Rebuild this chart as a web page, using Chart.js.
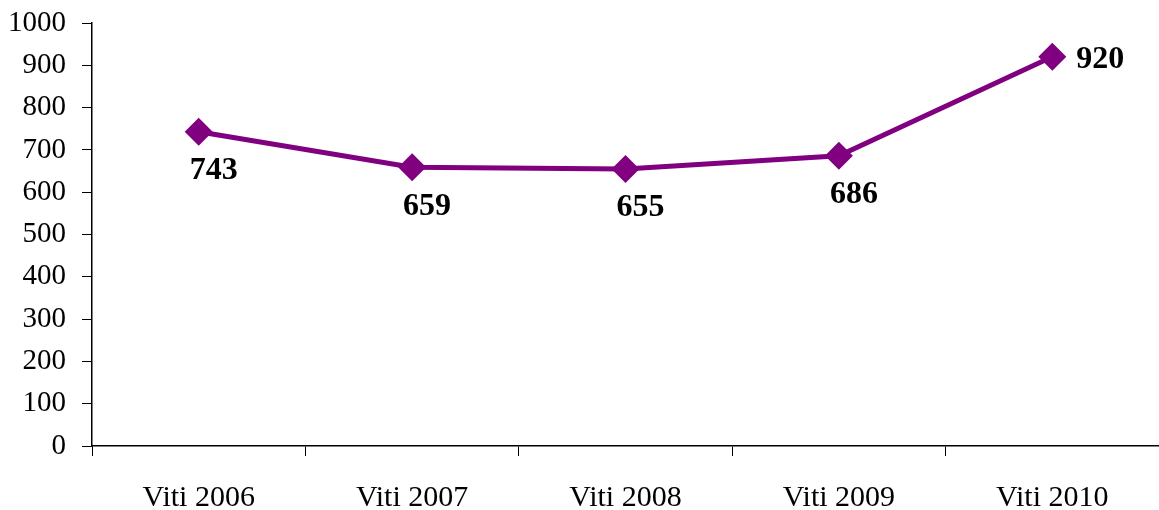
<!DOCTYPE html>
<html>
<head>
<meta charset="utf-8">
<script src="https://cdn.jsdelivr.net/npm/chart.js@4"></script>
<style>
  html, body { margin: 0; padding: 0; background: #fff; }
  #wrap { width: 1159px; height: 510px; }
</style>
</head>
<body>
<div id="wrap"><canvas id="lineChart"></canvas></div>
<script>
// chart data
const years = ['Viti 2006', 'Viti 2007', 'Viti 2008', 'Viti 2009', 'Viti 2010'];
const counts = [743, 659, 655, 686, 920];
const yMin = 0, yMax = 1000, yStep = 100;

const serif = '"Liberation Serif", "Times New Roman", serif';

// value labels: below the marker, the last one to its right
const valueLabels = {
    id: 'valueLabels',
    afterDatasetsDraw(chart) {
        const ctx = chart.ctx;
        const meta = chart.getDatasetMeta(0);
        ctx.save();
        ctx.font = 'bold 32px ' + serif;
        ctx.fillStyle = '#000';
        ctx.textBaseline = 'middle';
        meta.data.forEach((pt, i) => {
            if (i === meta.data.length - 1) {
                ctx.textAlign = 'left';
                ctx.fillText(counts[i], pt.x + 24, pt.y + 3);
            } else {
                ctx.textAlign = 'center';
                ctx.fillText(counts[i], pt.x + 15, pt.y + 39);
            }
        });
        ctx.restore();
    }
};

new Chart(document.getElementById('lineChart'), {
    type: 'line',
    data: {
        labels: years,
        datasets: [{
            data: counts,
            borderColor: '#800080',
            backgroundColor: '#800080',
            borderWidth: 5,
            tension: 0,
            pointStyle: 'rectRot',
            pointRadius: 14,
            pointBorderWidth: 0,
            pointBackgroundColor: '#800080'
        }]
    },
    options: {
        responsive: true,
        maintainAspectRatio: false,
        animation: false,
        layout: {
            autoPadding: false,
            padding: { top: 23, right: 0, left: 0, bottom: 0 }
        },
        plugins: {
            legend: { display: false },
            tooltip: { enabled: false }
        },
        scales: {
            x: {
                offset: true,
                grid: {
                    offset: true,
                    drawOnChartArea: false,
                    drawTicks: true,
                    tickLength: 10,
                    color: '#000'
                },
                border: { color: '#000', width: 1.5 },
                ticks: {
                    color: '#000',
                    padding: 24,
                    maxRotation: 0,
                    font: { family: serif, size: 30 }
                },
                afterFit(scale) {
                    scale.height = 64;
                    scale.paddingLeft = 0;
                    scale.paddingRight = 0;
                }
            },
            y: {
                min: yMin,
                max: yMax,
                ticks: {
                    stepSize: yStep,
                    color: '#000',
                    padding: 16,
                    font: { family: serif, size: 29 },
                    callback: v => String(v)
                },
                grid: {
                    drawOnChartArea: false,
                    drawTicks: true,
                    tickLength: 10,
                    color: '#000'
                },
                border: { color: '#000', width: 1.5 },
                afterFit(scale) {
                    scale.width = 92;
                    scale.paddingTop = 0;
                    scale.paddingBottom = 0;
                }
            }
        }
    },
    plugins: [valueLabels]
});
</script>
</body>
</html>
